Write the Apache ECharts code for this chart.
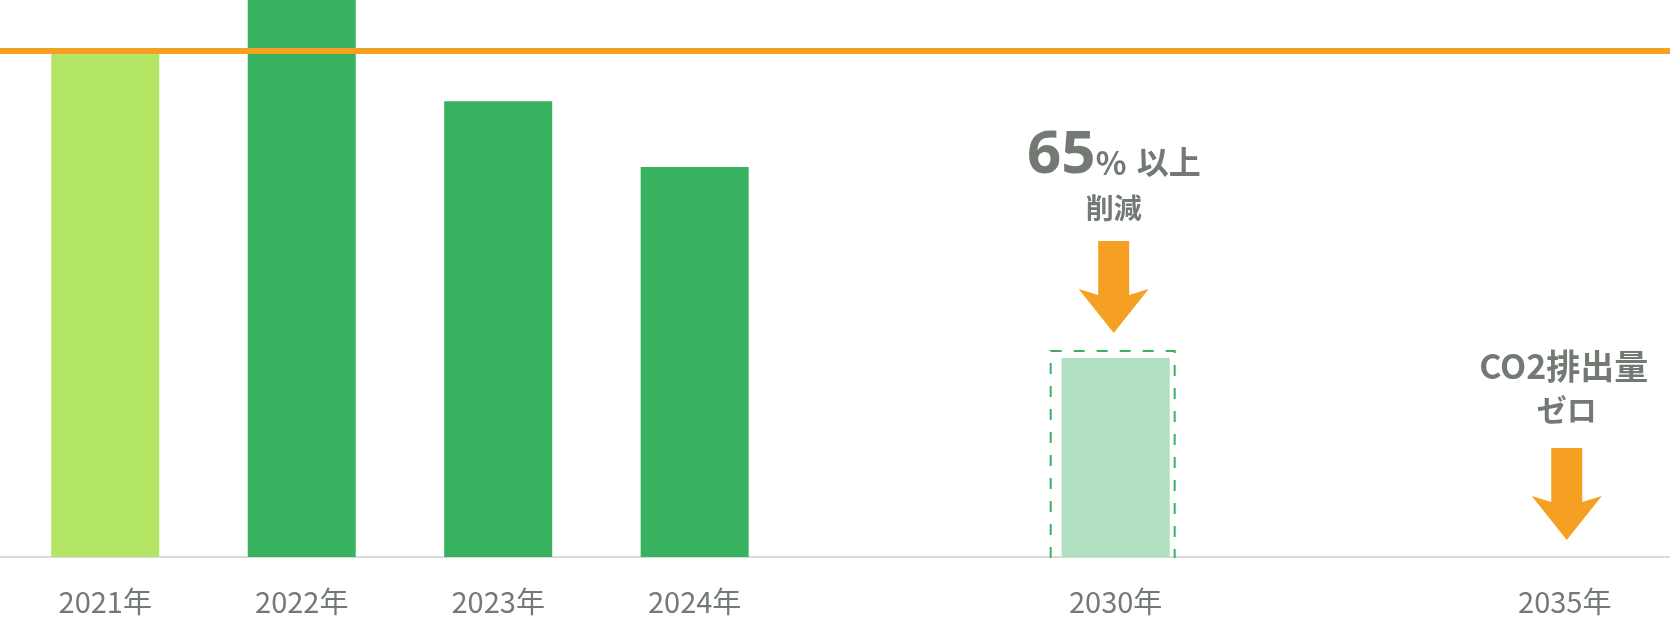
<!DOCTYPE html>
<html><head><meta charset="utf-8">
<script src="https://cdn.jsdelivr.net/npm/echarts@6/dist/echarts.min.js"></script>
<style>html,body{margin:0;padding:0;background:#fff;}#c{width:1670px;height:626px;}</style>
</head><body><div id="c"></div>
<script>
// ---- data ----
const years = ['2021年', '2022年', '2023年', '2024年', '2030年', '2035年'];
const emissions = [100, 115, 90, 77, 39.3, null];
const baseLevel = 100;
const yMax = 110;
const targetIndex = [4, 5]; // which years carry a target annotation
const targetText = [
  { big: '65', unit: '%', rest: '以上', second: '削減' },
  { first: 'CO2排出量', second: 'ゼロ' }
];

// ---- layout / style ----
const slotCount = 119;
const slotOf = [7, 21, 35, 49, 79, 111];
const barColors = ['#b3e664', '#37b25f', '#37b25f', '#37b25f', '#b0dfc1', '#37b25f'];
const gray = '#737a74';
const orange = '#f5a023';
const FONT = '"Noto Sans CJK JP", "Noto Sans", sans-serif';
const LATIN = '"Noto Sans", "Noto Sans CJK JP", sans-serif';

const categories = new Array(slotCount).fill('');
years.forEach((y, i) => { categories[slotOf[i]] = y; });

const barData = years.map((y, i) => ({
  value: [slotOf[i], emissions[i]],
  itemStyle: { color: barColors[i] }
})).filter(d => d.value[1] != null);

const chart = echarts.init(document.getElementById('c'), null, { renderer: 'canvas' });

function txt(x, y, text, size, align, family) {
  return {
    type: 'text', x: x, y: y,
    style: {
      text: text, fill: gray,
      font: 'bold ' + size + 'px ' + (family || FONT),
      align: align, verticalAlign: 'middle',
      textAlign: align, textVerticalAlign: 'middle'
    }
  };
}
function arrow(cx, tipY) {
  return {
    type: 'polygon',
    shape: { points: [
      [cx - 15.5, tipY - 92], [cx + 15.5, tipY - 92], [cx + 15.5, tipY - 38],
      [cx + 35, tipY - 44], [cx, tipY], [cx - 35, tipY - 44], [cx - 15.5, tipY - 38]
    ] },
    style: { fill: orange }
  };
}

const tipGap = [25, 17];
const nudgeX = [-2, 2];

chart.setOption({
  animation: false,
  backgroundColor: '#ffffff',
  grid: { left: 0, right: 0, top: 0, bottom: 69, containLabel: false },
  xAxis: {
    type: 'category',
    data: categories,
    axisLine: { show: true, lineStyle: { color: '#d7dbd9', width: 2 } },
    axisTick: { show: false },
    axisLabel: { interval: 0, color: gray, fontSize: 29, fontFamily: FONT, margin: 30 },
    splitLine: { show: false }
  },
  yAxis: {
    type: 'value', min: 0, max: yMax, show: false,
    splitLine: { show: false }
  },
  series: [
    {
      type: 'bar',
      barWidth: 108,
      data: barData,
      markLine: {
        silent: true, symbol: 'none',
        label: { show: false },
        lineStyle: { color: orange, width: 6, type: 'solid' },
        data: [{ yAxis: baseLevel }]
      }
    },
    {
      type: 'custom',
      data: [[slotOf[4], emissions[4]]],
      renderItem: function (params, api) {
        const top = api.coord([api.value(0), api.value(1)]);
        const base = api.coord([api.value(0), 0]);
        const cx = top[0] - 2;
        const l = cx - 63, r = cx + 61, t = top[1] - 7, b = base[1] + 1;
        return {
          type: 'polyline',
          shape: { points: [[l, b], [l, t], [r, t], [r, b]] },
          style: { fill: null, stroke: '#37b25f', lineWidth: 2, lineDash: [11, 12] }
        };
      }
    },
    {
      type: 'custom',
      data: targetIndex.map(i => [slotOf[i], emissions[i] == null ? 0 : emissions[i]]),
      renderItem: function (params, api) {
        const k = params.dataIndex;
        const p = api.coord([api.value(0), api.value(1)]);
        const cx = p[0] + nudgeX[k];
        const tipY = p[1] - tipGap[k];
        const t = targetText[k];
        const children = [arrow(cx, tipY)];
        if (k === 0) {
          children.push(txt(cx - 18, tipY - 177, t.big, 60, 'right', LATIN));
          children.push(txt(cx - 18, tipY - 170, t.unit, 32, 'left'));
          children.push(txt(cx + 23, tipY - 171, t.rest, 32, 'left'));
          children.push(txt(cx, tipY - 125, t.second, 28, 'center'));
        } else {
          children.push(txt(cx - 3, tipY - 174, t.first, 34, 'center'));
          children.push(txt(cx, tipY - 130, t.second, 30, 'center'));
        }
        return { type: 'group', children: children };
      }
    }
  ]
});
</script>
</body></html>
